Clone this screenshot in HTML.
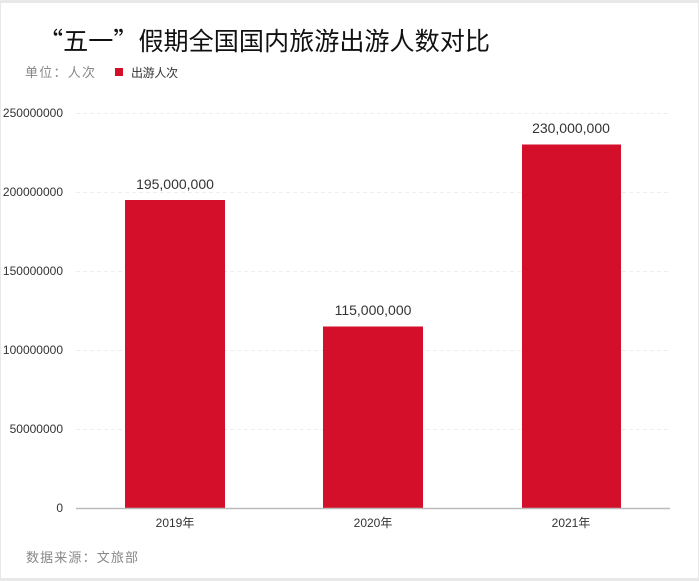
<!DOCTYPE html>
<html><head><meta charset="utf-8"><style>
html,body{margin:0;padding:0;background:#e8e8e8;}
#c{position:absolute;left:1px;top:3px;width:697px;height:575px;background:#fff;}
svg{position:absolute;left:0;top:0;}
text{font-family:"Liberation Sans","Noto Sans CJK SC",sans-serif;}
.cj{font-family:"Noto Sans CJK SC",sans-serif;}
</style></head><body>
<div id="c"></div>
<svg width="699" height="581" viewBox="0 0 699 581">
<text class="cj" x="38" y="50" font-size="25" fill="#111" textLength="452" lengthAdjust="spacingAndGlyphs">“五一”假期全国国内旅游出游人数对比</text>
<text class="cj" x="25" y="77" font-size="13" fill="#888" textLength="70">单位：人次</text>
<rect x="115" y="68" width="8" height="8" fill="#d40f2a"/>
<text class="cj" x="131" y="77" font-size="12" fill="#333" textLength="47">出游人次</text>
<g stroke="#eee" stroke-dasharray="4,3" stroke-width="1">
<line x1="76" x2="670" y1="113.5" y2="113.5"/>
<line x1="76" x2="670" y1="192.5" y2="192.5"/>
<line x1="76" x2="670" y1="271.5" y2="271.5"/>
<line x1="76" x2="670" y1="350.5" y2="350.5"/>
<line x1="76" x2="670" y1="429.5" y2="429.5"/>
</g>
<g font-size="12" fill="#333" text-anchor="end">
<text x="63" y="117">250000000</text>
<text x="63" y="196">200000000</text>
<text x="63" y="275">150000000</text>
<text x="63" y="354">100000000</text>
<text x="63" y="433">50000000</text>
<text x="63" y="512">0</text>
</g>
<rect x="125" y="200" width="100" height="308" fill="#d40f2a"/>
<rect x="323" y="326.5" width="100" height="181.5" fill="#d40f2a"/>
<rect x="522" y="144.5" width="99" height="363.5" fill="#d40f2a"/>
<line x1="76" x2="670" y1="508.5" y2="508.5" stroke="#bbb" stroke-width="1.5"/>
<g font-size="14" fill="#333" text-anchor="middle">
<text x="175" y="189">195,000,000</text>
<text x="373" y="315">115,000,000</text>
<text x="571" y="133">230,000,000</text>
</g>
<g font-size="12" fill="#333" text-anchor="middle">
<text x="175" y="527">2019年</text>
<text x="373" y="527">2020年</text>
<text x="571" y="527">2021年</text>
</g>
<text class="cj" x="26" y="562" font-size="13" fill="#888" textLength="112">数据来源：文旅部</text>
</svg>
</body></html>
